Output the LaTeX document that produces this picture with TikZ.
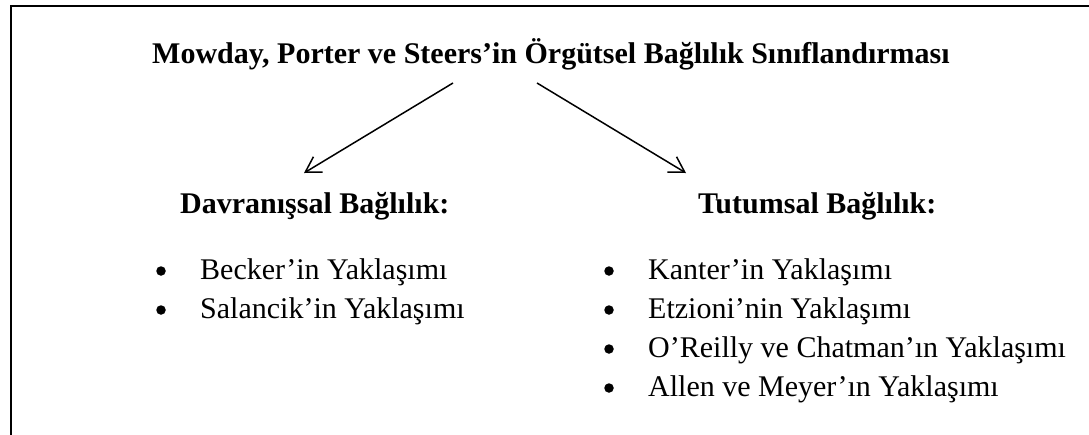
\documentclass[tikz,border=0pt]{standalone}
\usepackage{fontspec}
\setmainfont{Liberation Serif}
\usetikzlibrary{arrows.meta}
\begin{document}
\begin{tikzpicture}[x=1pt,y=-1pt,
  heading/.style={anchor=base west,inner sep=0pt,font=\fontsize{30}{36}\selectfont\bfseries},
  entry/.style={anchor=base west,inner sep=0pt,font=\fontsize{30}{36}\selectfont},
  dot/.style={circle,fill=black,inner sep=0pt,minimum size=9.5pt},
  link/.style={line width=1.5pt,-{Straight Barb[length=15pt,width=18pt,line width=1.5pt]}},
  frame/.style={line width=2pt}]
\useasboundingbox (0,0) rectangle (1089,434);
\clip (0,0) rectangle (1089,434);
\fill[white] (0,0) rectangle (1089,434);
% open frame around the scheme
\draw[frame] (11,440) -- (11,6) -- (1095,6);
% title
\node[heading] (title) at (152,63) {Mowday, Porter ve Steers’in Örgütsel Bağlılık Sınıflandırması};
% two branches
\node[heading] (beh) at (180,213) {Davranışsal Bağlılık:};
\node[heading] (att) at (698,213) {Tutumsal Bağlılık:};
\coordinate (lfrom) at (453,83);
\coordinate (lto) at (304,173);
\coordinate (rfrom) at (537,83);
\coordinate (rto) at (686,173);
\draw[link] (lfrom) -- (lto);
\draw[link] (rfrom) -- (rto);
% left list
\node[dot] (b1) at (161,271) {};
\node[entry] (e1) at (200,279) {Becker’in Yaklaşımı};
\node[dot] (b2) at (161,310) {};
\node[entry] (e2) at (200,318) {Salancik’in Yaklaşımı};
% right list
\node[dot] (c1) at (609,271) {};
\node[entry] (f1) at (648,279) {Kanter’in Yaklaşımı};
\node[dot] (c2) at (609,310) {};
\node[entry] (f2) at (648,318) {Etzioni’nin Yaklaşımı};
\node[dot] (c3) at (609,349) {};
\node[entry] (f3) at (648,357) {O’Reilly ve Chatman’ın Yaklaşımı};
\node[dot] (c4) at (609,388) {};
\node[entry] (f4) at (648,396) {Allen ve Meyer’ın Yaklaşımı};
\end{tikzpicture}
\end{document}
